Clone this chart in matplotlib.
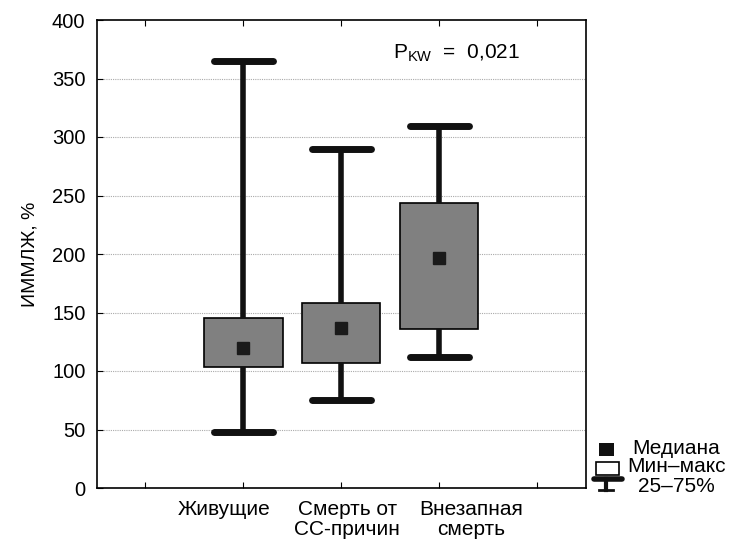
import matplotlib
matplotlib.use("Agg")
import matplotlib.pyplot as plt
from matplotlib.lines import Line2D
from matplotlib.patches import Rectangle

plt.rcParams['font.family'] = ['Liberation Sans', 'DejaVu Sans']

categories = ["Живущие", "Смерть от\nСС-причин", "Внезапная\nсмерть"]
positions = [1.5, 2.5, 3.5]
label_x = [1.30, 2.56, 3.83]  # label centres as placed in the original (offset from boxes)
medians = [120, 137, 197]
q1 = [103, 107, 136]
q3 = [145, 158, 244]
mins = [48, 75, 112]
maxs = [365, 290, 309]
yticks = [0, 50, 100, 150, 200, 250, 300, 350, 400]

W, H = 730, 542
fig = plt.figure(figsize=(W / 100, H / 100), dpi=100)
ax = fig.add_axes([96.5 / W, 1 - 488 / H, (586 - 96.5) / W, (488 - 20) / H])

stats = []
for i in range(len(categories)):
    stats.append(dict(med=medians[i], q1=q1[i], q3=q3[i],
                      whislo=mins[i], whishi=maxs[i], fliers=[]))

ax.bxp(stats, positions=positions, widths=0.8, capwidths=0.6,
       showfliers=False, patch_artist=True,
       boxprops=dict(facecolor='#808080', edgecolor='black', linewidth=1.2),
       whiskerprops=dict(color='#111111', linewidth=4, solid_capstyle='butt'),
       capprops=dict(color='#111111', linewidth=5, solid_capstyle='round'),
       medianprops=dict(linestyle='none'))
ax.plot(positions, medians, linestyle='none', marker='s', markersize=9,
        color='#1a1a1a', zorder=5)

ax.set_xlim(0, 5)
ax.set_ylim(0, 400)
ax.set_yticks(yticks)
ax.set_yticklabels([str(v) for v in yticks], fontsize=14.5)
ax.set_xticks([0.5, 1.5, 2.5, 3.5, 4.5])
ax.set_xticklabels([])
ax.tick_params(axis='x', direction='in', top=True, bottom=True, length=4)
ax.tick_params(axis='y', direction='in', length=4, pad=8)
for y in yticks[1:-1]:
    ax.axhline(y, color='#aaaaaa', linestyle=(0, (1, 1)), linewidth=0.8, zorder=0)
for s in ax.spines.values():
    s.set_linewidth(1.2)

for lx, lab in zip(label_x, categories):
    ax.text(lx, -0.026, lab, transform=ax.get_xaxis_transform(), ha='center', va='top',
            fontsize=15, linespacing=1.08, multialignment='center')

ax.set_ylabel("ИММЛЖ, %", fontsize=14, labelpad=10)


def fx(x):
    return x / W


def fy(y):
    return 1 - y / H


fig.text(fx(393), fy(53), "P$_{\\mathregular{KW}}$  =  0,021", fontsize=15, va='center')

# legend (figure coordinates)
fig.add_artist(Rectangle((fx(599), fy(456)), 15 / W, 13 / H, facecolor='#111111',
                         edgecolor='none', transform=fig.transFigure))
fig.add_artist(Rectangle((fx(596), fy(475)), 23 / W, 13 / H, facecolor='white',
                         edgecolor='black', linewidth=1.2, transform=fig.transFigure))
fig.add_artist(Line2D([fx(594), fx(622)], [fy(479), fy(479)], color='#111111',
                      linewidth=4, transform=fig.transFigure, solid_capstyle='round'))
fig.add_artist(Line2D([fx(606), fx(606)], [fy(479), fy(490)], color='#111111',
                      linewidth=3, transform=fig.transFigure))
fig.add_artist(Line2D([fx(599), fx(613)], [fy(490), fy(490)], color='#111111',
                      linewidth=2, transform=fig.transFigure))
fig.text(fx(632), fy(448), "Медиана", fontsize=15, va='center')
fig.text(fx(627), fy(467), "Мин–макс", fontsize=15, va='center')
fig.text(fx(638), fy(486), "25–75%", fontsize=15, va='center')

fig.savefig("out.png", dpi=100)
